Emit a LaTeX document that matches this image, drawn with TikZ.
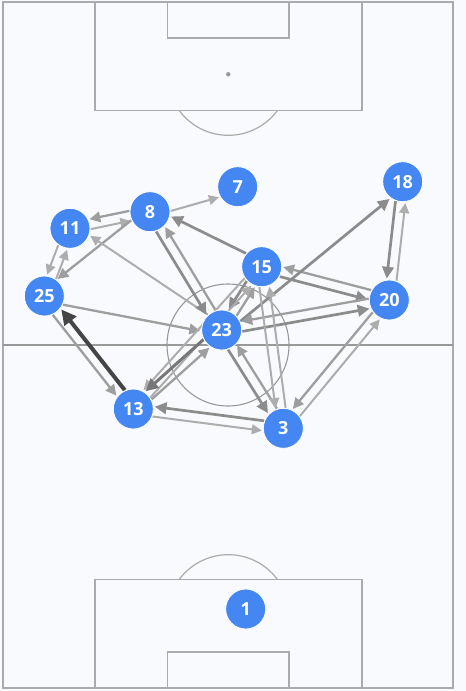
\documentclass[tikz,border=0pt]{standalone}
\usepackage{fontspec}
\setmainfont{Open Sans}
\usetikzlibrary{arrows.meta,calc}
\definecolor{bg}{HTML}{F9FAFD}
\definecolor{pline}{HTML}{ABABAB}
\definecolor{mline}{HTML}{999999}
\definecolor{pblue}{HTML}{4487F3}
\definecolor{la}{HTML}{ADADAD}
\definecolor{lb}{HTML}{9E9E9E}
\definecolor{lc}{HTML}{8C8C8C}
\definecolor{ld}{HTML}{777777}
\definecolor{lk}{HTML}{454545}
\newcommand\passarrow[3][]{\draw[pass,#1] ($(#2)!5pt!-90:(#3)$) -- ($(#3)!5pt!90:(#2)$);}
\begin{document}
\begin{tikzpicture}[x=1pt,y=-1pt,
  pitch/.style={draw=pline, line width=1.2pt},
  midl/.style={draw=mline, line width=1.1pt},
  player/.style={circle, fill=pblue, draw=white, line width=0.8pt, minimum size=40pt, inner sep=0pt,
    text=white, font=\fontsize{18}{18}\selectfont\bfseries},
  pass/.style={draw=la, line width=2pt, shorten <=20pt, shorten >=21pt,
    -{Triangle[length=5pt 2.5, width=5pt 2.4]}},
  wa/.style={draw=la, line width=2pt},
  wb/.style={draw=lb, line width=2.3pt},
  wc/.style={draw=lc, line width=2.7pt},
  wd/.style={draw=ld, line width=3pt},
  wk/.style={draw=lk, line width=4pt}]
\fill[bg] (0,0) rectangle (466,691);
% pitch
\draw[pitch] (3,2) rectangle (453,688);
\draw[midl] (3,345) -- (453,345);
\draw[midl] (228,345) circle (61);
\draw[pitch] (95,2) rectangle (362,110.7);
\draw[pitch] (167.7,2) rectangle (289,38);
\fill[mline] (228.3,74.3) circle (2.2);
\draw[pitch] (277.3,110.7) arc[start angle=36.6, end angle=143.4, radius=61];
\draw[pitch] (95,579.3) rectangle (362,688);
\draw[pitch] (167.7,652) rectangle (289,688);
\draw[pitch] (277.3,579.3) arc[start angle=-36.6, end angle=-143.4, radius=61];
% player positions
\coordinate (c1) at (245.7,609);
\coordinate (c3) at (283.3,428.3);
\coordinate (c7) at (237.7,186.7);
\coordinate (c8) at (150,211.7);
\coordinate (c11) at (70,228.3);
\coordinate (c13) at (133.3,409);
\coordinate (c15) at (261.7,266.7);
\coordinate (c18) at (402.7,181.7);
\coordinate (c20) at (389.3,300);
\coordinate (c23) at (221.7,330);
\coordinate (c25) at (44.3,296);
% passes
\passarrow[wa]{c8}{c7}
\passarrow[wb]{c8}{c11}
\passarrow[wa]{c11}{c8}
\passarrow[wb]{c8}{c25}
\passarrow[wa]{c11}{c25}
\passarrow[wa]{c25}{c11}
\passarrow[wa]{c23}{c11}
\passarrow[wb]{c25}{c23}
\passarrow[wb]{c25}{c13}
\passarrow[wk]{c13}{c25}
\passarrow[wc]{c8}{c23}
\passarrow[wb]{c23}{c8}
\passarrow[wc]{c15}{c8}
\passarrow[wc]{c15}{c20}
\passarrow[wb]{c20}{c15}
\passarrow[wc]{c23}{c18}
\passarrow[wc]{c18}{c20}
\passarrow[wa]{c20}{c18}
\passarrow[wb]{c20}{c23}
\passarrow[wc]{c23}{c20}
\passarrow[wc]{c15}{c23}
\passarrow[wb]{c23}{c15}
\passarrow[wa]{c15}{c13}
\passarrow[wa]{c13}{c15}
\passarrow[wd]{c23}{c13}
\passarrow[wb]{c13}{c23}
\passarrow[wc]{c23}{c3}
\passarrow[wb]{c3}{c23}
\passarrow[wa]{c3}{c15}
\passarrow[wa]{c15}{c3}
\passarrow[wc]{c3}{c13}
\passarrow[wa]{c13}{c3}
\passarrow[wb]{c20}{c3}
\passarrow[wa]{c3}{c20}
% players
\node[player] (p1) at (c1) {1};
\node[player] (p3) at (c3) {3};
\node[player] (p7) at (c7) {7};
\node[player] (p8) at (c8) {8};
\node[player] (p11) at (c11) {11};
\node[player] (p13) at (c13) {13};
\node[player] (p15) at (c15) {15};
\node[player] (p18) at (c18) {18};
\node[player] (p20) at (c20) {20};
\node[player] (p23) at (c23) {23};
\node[player] (p25) at (c25) {25};
\end{tikzpicture}
\end{document}
